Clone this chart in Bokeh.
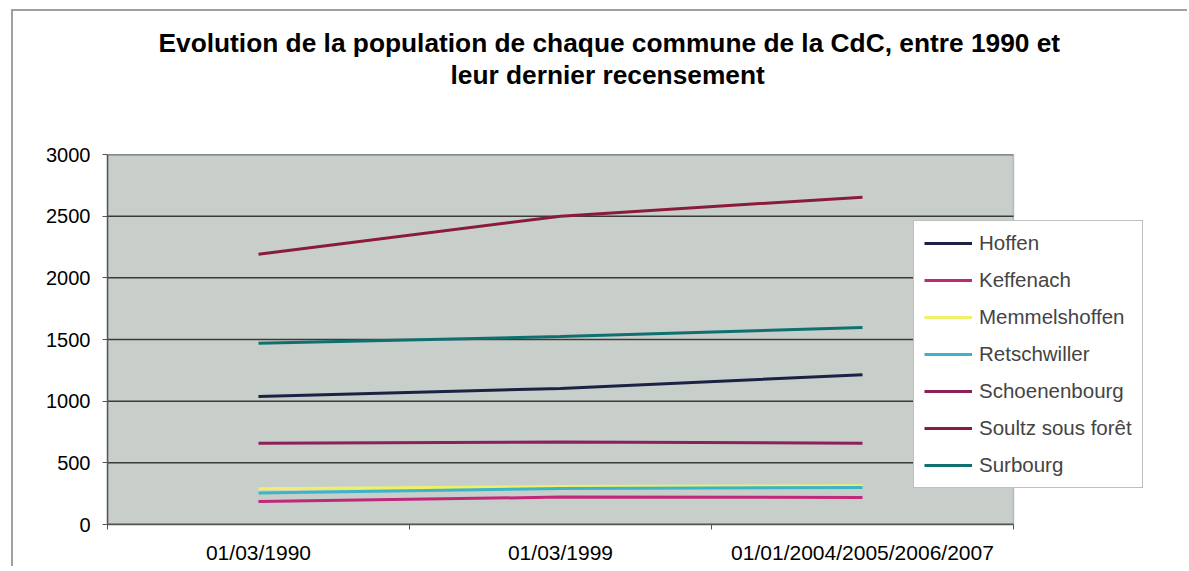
import numpy as np
from bokeh.plotting import figure
from bokeh.models import (Range1d, FixedTicker, Legend, LegendItem, Title, BoxAnnotation)
from bokeh.embed import file_html
from bokeh.resources import INLINE

# ---- data ----
dates = ["01/03/1990", "01/03/1999", "01/01/2004/2005/2006/2007"]
communes = ["Hoffen", "Keffenach", "Memmelshoffen", "Retschwiller",
            "Schoenenbourg", "Soultz sous forêt", "Surbourg"]
hoffen = [1038, 1103, 1214]
keffenach = [186, 222, 219]
memmelshoffen = [289, 308, 314]
retschwiller = [255, 292, 300]
schoenenbourg = [659, 668, 659]
soultz = [2192, 2500, 2654]
surbourg = [1470, 1524, 1597]
yticks = [0, 500, 1000, 1500, 2000, 2500, 3000]

series = [hoffen, keffenach, memmelshoffen, retschwiller,
          schoenenbourg, soultz, surbourg]
colors = ["#1c2244", "#c0287a", "#eef06a", "#3cb4c8",
          "#8c2058", "#8a1c3a", "#107070"]

FONT = "Liberation Sans"

n = len(dates)
xpos = np.arange(n) + 0.5
PLOT_W = 906          # width of the grey plot area in px
FRAME_W = 1036        # frame extended to host the overlapping legend
y_max = yticks[-1]

p = figure(frame_width=FRAME_W, frame_height=370,
           x_range=Range1d(0, n * FRAME_W / PLOT_W), y_range=Range1d(0, y_max),
           output_backend="svg", toolbar_location=None,
           min_border_left=94, min_border_right=44,
           min_border_top=0, min_border_bottom=40)
p.styles = {"border-left": "2px solid #a0a0a0", "border-top": "2px solid #a0a0a0",
            "margin-left": "11px", "margin-top": "9px"}

p.background_fill_color = "white"
p.border_fill_color = "white"
p.outline_line_color = None

# grey plot area with its outline
p.add_layout(BoxAnnotation(left=0, right=n, bottom=0, top=y_max,
                           fill_color="#c8cfcb", fill_alpha=1.0,
                           line_color="#555555", line_width=1.5,
                           level="underlay"))

# titles (stacked from the frame outwards)
p.add_layout(Title(text=" ", text_font_size="1px", standoff=62), "above")
p.add_layout(Title(text="leur dernier recensement", text_font=FONT,
                   text_font_size="26.3px", text_font_style="bold", text_color="black",
                   align="left", offset=343, standoff=0), "above")
p.add_layout(Title(text="Evolution de la population de chaque commune de la CdC, entre 1990 et",
                   text_font=FONT, text_font_size="26.3px", text_font_style="bold",
                   text_color="black", align="left", offset=51, standoff=0), "above")
p.add_layout(Title(text=" ", text_font_size="1px", standoff=11), "above")

# horizontal grid lines limited to the grey plot area
p.segment(x0=[0] * len(yticks), x1=[n] * len(yticks), y0=yticks, y1=yticks,
          line_color="#3a3a3a", line_width=1.5)

renderers = []
for vals, col in zip(series, colors):
    r = p.line(xpos, vals, line_color=col, line_width=3)
    renderers.append(r)

# axes
p.xaxis.ticker = FixedTicker(ticks=list(xpos), minor_ticks=list(range(n + 1)))
p.xaxis.major_label_overrides = {float(x): d for x, d in zip(xpos, dates)}
p.xaxis.bounds = (0, n)
p.xaxis.major_tick_out = 0
p.xaxis.major_tick_in = 0
p.xaxis.minor_tick_out = 5
p.xaxis.minor_tick_in = 0
p.xaxis.major_label_standoff = 11
p.xaxis.major_label_text_font = FONT
p.xaxis.major_label_text_font_size = "21px"
p.xaxis.major_label_text_color = "black"
p.xaxis.axis_line_color = "#555555"
p.xaxis.axis_line_width = 1.5
p.xaxis.minor_tick_line_color = "#555555"

p.yaxis.ticker = FixedTicker(ticks=yticks, minor_ticks=[])
p.yaxis.major_tick_out = 5
p.yaxis.major_tick_in = 0
p.yaxis.major_label_standoff = 12
p.yaxis.major_label_text_font = FONT
p.yaxis.major_label_text_font_size = "20px"
p.yaxis.major_label_text_color = "black"
p.yaxis.axis_line_color = "#555555"
p.yaxis.axis_line_width = 1.5
p.yaxis.major_tick_line_color = "#555555"

p.grid.visible = False

legend = Legend(items=[LegendItem(label=c, renderers=[r]) for c, r in zip(communes, renderers)],
                location=(806, 36), margin=0, padding=10, spacing=13,
                label_height=22, glyph_height=22, glyph_width=48, label_standoff=7,
                label_text_font=FONT, label_text_font_size="20.5px",
                border_line_color="#808080", border_line_width=1.5,
                background_fill_color="white", background_fill_alpha=1.0)
p.add_layout(legend, "center")

open("out.html", "w").write(file_html(p, INLINE))
